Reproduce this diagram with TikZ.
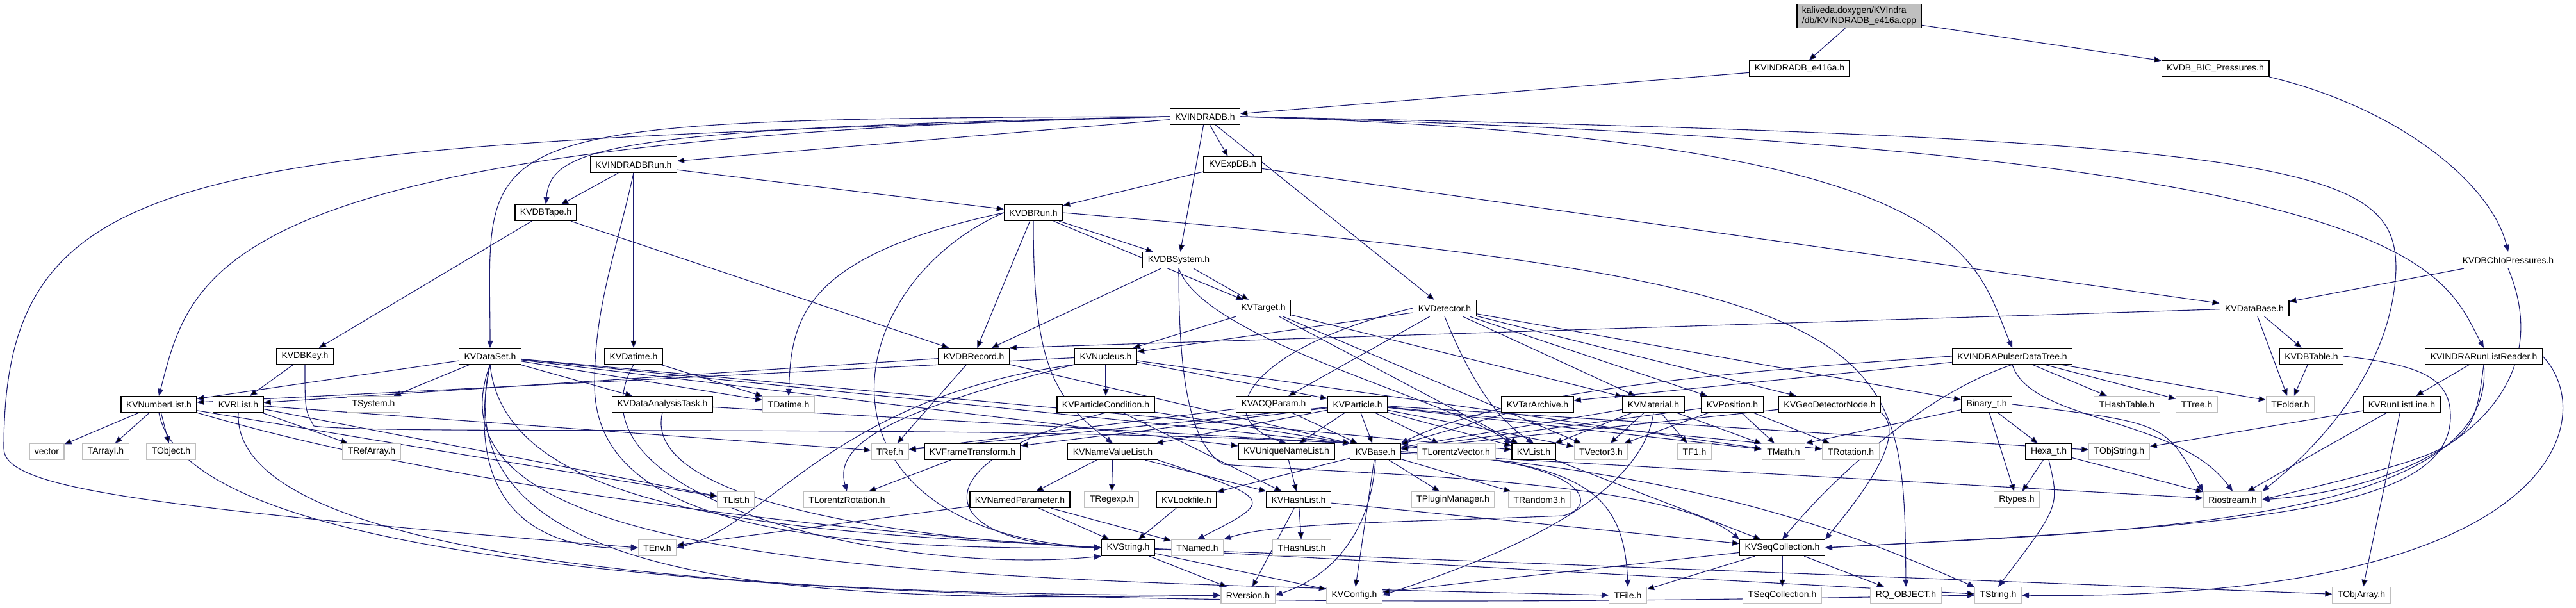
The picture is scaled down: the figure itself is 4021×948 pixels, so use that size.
\documentclass[tikz,border=0pt]{standalone}
\usepackage{fontspec}
\setmainfont{Liberation Sans}
\usetikzlibrary{arrows.meta,backgrounds}

\definecolor{depblue}{HTML}{191970}
\definecolor{sysgray}{HTML}{BFBFBF}

\tikzset{
  hdr/.style={draw=black, fill=white, line width=1.2pt, inner xsep=8pt, inner ysep=2pt,
    minimum height=25pt, font=\fontsize{14}{16}\selectfont},
  syshdr/.style={hdr, draw=sysgray},
  srcfile/.style={hdr, fill=sysgray, align=left, inner ysep=4pt},
  dep/.style={draw=depblue, line width=1.1pt, -{Triangle[length=11pt,width=9pt]}},
}

\begin{document}
\begin{tikzpicture}[x=1pt, y=-1pt]
    \useasboundingbox (0,0) rectangle (4021,948);

    % Source file and direct includes
    \node[srcfile] (root) at (2902,25) {kaliveda.doxygen/KVIndra\\/db/KVINDRADB\_e416a.cpp};
    \node[hdr] (e416a) at (2809,107) {KVINDRADB\_e416a.h};
    \node[hdr] (bic) at (3458,107) {KVDB\_BIC\_Pressures.h};
    \node[hdr] (indradb) at (1881,182) {KVINDRADB.h};

    % Database layer
    \node[hdr] (indradbrun) at (989,257) {KVINDRADBRun.h};
    \node[hdr] (expdb) at (1924,257) {KVExpDB.h};
    \node[hdr] (dbtape) at (852,332) {KVDBTape.h};
    \node[hdr] (dbrun) at (1613,332) {KVDBRun.h};
    \node[hdr] (dbsystem) at (1840,406) {KVDBSystem.h};
    \node[hdr] (chio) at (3915,406) {KVDBChIoPressures.h};
    \node[hdr] (target) at (1972,481) {KVTarget.h};
    \node[hdr] (detector) at (2255,481) {KVDetector.h};
    \node[hdr] (database) at (3519,481) {KVDataBase.h};

    % Row 7
    \node[hdr] (dbkey) at (476,556) {KVDBKey.h};
    \node[hdr] (dataset) at (765,556) {KVDataSet.h};
    \node[hdr] (datime) at (989,556) {KVDatime.h};
    \node[hdr] (dbrecord) at (1520,556) {KVDBRecord.h};
    \node[hdr] (nucleus) at (1726,556) {KVNucleus.h};
    \node[hdr] (pulser) at (3141,556) {KVINDRAPulserDataTree.h};
    \node[hdr] (dbtable) at (3608,556) {KVDBTable.h};
    \node[hdr] (runlistreader) at (3877,556) {KVINDRARunListReader.h};

    % Row 8
    \node[hdr] (numberlist) at (248,631) {KVNumberList.h};
    \node[hdr] (krlist) at (372,631) {KVRList.h};
    \node[syshdr] (tsystem) at (583,631) {TSystem.h};
    \node[hdr] (analysistask) at (1034,631) {KVDataAnalysisTask.h};
    \node[syshdr] (tdatime) at (1231,631) {TDatime.h};
    \node[hdr] (partcond) at (1726,631) {KVParticleCondition.h};
    \node[hdr] (acqparam) at (1988,631) {KVACQParam.h};
    \node[hdr] (particle) at (2119,631) {KVParticle.h};
    \node[hdr] (tararchive) at (2400,631) {KVTarArchive.h};
    \node[hdr] (material) at (2581,631) {KVMaterial.h};
    \node[hdr] (position) at (2704,631) {KVPosition.h};
    \node[hdr] (geodetnode) at (2856,631) {KVGeoDetectorNode.h};
    \node[hdr] (binary) at (3101,631) {Binary\_t.h};
    \node[syshdr] (hashtable) at (3320,631) {THashTable.h};
    \node[syshdr] (ttree) at (3429,631) {TTree.h};
    \node[syshdr] (tfolder) at (3575,631) {TFolder.h};
    \node[hdr] (runlistline) at (3749,631) {KVRunListLine.h};

    % Row 9
    \node[syshdr] (vector) at (73,705) {vector};
    \node[syshdr] (tarrayi) at (165,705) {TArrayI.h};
    \node[syshdr] (tobject) at (267,705) {TObject.h};
    \node[syshdr] (trefarray) at (580,705) {TRefArray.h};
    \node[syshdr] (tref) at (1389,705) {TRef.h};
    \node[hdr] (frametrans) at (1518,705) {KVFrameTransform.h};
    \node[hdr] (namevaluelist) at (1737,705) {KVNameValueList.h};
    \node[hdr] (uniquenamelist) at (2008,705) {KVUniqueNameList.h};
    \node[hdr] (kvbase) at (2147,705) {KVBase.h};
    \node[syshdr] (lorentzvec) at (2273,705) {TLorentzVector.h};
    \node[hdr] (kvlist) at (2394,705) {KVList.h};
    \node[syshdr] (tvector3) at (2499,705) {TVector3.h};
    \node[syshdr] (tf1) at (2645,705) {TF1.h};
    \node[syshdr] (tmath) at (2784,705) {TMath.h};
    \node[syshdr] (trotation) at (2889,705) {TRotation.h};
    \node[hdr] (hexa) at (3198,705) {Hexa\_t.h};
    \node[syshdr] (tobjstring) at (3308,705) {TObjString.h};

    % Row 10
    \node[syshdr] (tlist) at (1149,780) {TList.h};
    \node[syshdr] (lorentzrot) at (1322,780) {TLorentzRotation.h};
    \node[hdr] (namedpar) at (1592,780) {KVNamedParameter.h};
    \node[syshdr] (tregexp) at (1735,780) {TRegexp.h};
    \node[hdr] (lockfile) at (1852,780) {KVLockfile.h};
    \node[hdr] (hashlist) at (2027,780) {KVHashList.h};
    \node[syshdr] (tpluginmgr) at (2268,780) {TPluginManager.h};
    \node[syshdr] (trandom3) at (2403,780) {TRandom3.h};
    \node[syshdr] (rtypes) at (3148,780) {Rtypes.h};
    \node[syshdr] (riostream) at (3485,780) {Riostream.h};

    % Row 11
    \node[syshdr] (tenv) at (1026,855) {TEnv.h};
    \node[hdr] (kvstring) at (1761,855) {KVString.h};
    \node[syshdr] (tnamed) at (1869,855) {TNamed.h};
    \node[syshdr] (thashlist) at (2032,855) {THashList.h};
    \node[hdr] (seqcoll) at (2782,855) {KVSeqCollection.h};

    % Row 12
    \node[syshdr] (rversion) at (1948,929) {RVersion.h};
    \node[syshdr] (kvconfig) at (2114,929) {KVConfig.h};
    \node[syshdr] (tfile) at (2541,929) {TFile.h};
    \node[syshdr] (tseqcoll) at (2782,929) {TSeqCollection.h};
    \node[syshdr] (rqobject) at (2975,929) {RQ\_OBJECT.h};
    \node[syshdr] (tstring) at (3119,929) {TString.h};
    \node[syshdr] (tobjarray) at (3686,929) {TObjArray.h};

    \begin{scope}[on background layer]
    \fill[white] (0,0) rectangle (4021,948);

    % Top of the graph
    \draw[dep] (root) edge (e416a) edge (bic);
    \draw[dep] (e416a) edge (indradb);
    \draw[dep] (bic.south east) .. controls (3750,170) and (3890,290) .. (chio.north);
    \draw[dep] (chio) edge (database);
    \draw[dep] (chio.south) .. controls (4000,620) and (3800,760) .. (riostream.east);

    % KVINDRADB.h
    \draw[dep] (indradb) edge (indradbrun) edge (expdb) edge (dbsystem) edge (detector);
    \draw[dep] (indradb.west) .. controls (950,200) and (860,230) .. (dbtape.north);
    \draw[dep] (indradb.west) .. controls (700,185) and (765,200) .. (dataset.north);
    \draw[dep] (indradb.west) .. controls (330,215) and (300,420) .. (numberlist.north);
    \draw[dep] (indradb.west) .. controls (300,230) and (6,240) .. (6,700)
        .. controls (6,760) and (200,790) .. (tenv.west);
    \draw[dep] (indradb.east) .. controls (3080,215) and (3080,400) .. (pulser.north);
    \draw[dep] (indradb.east) .. controls (3790,230) and (3810,420) .. (runlistreader.north);
    \draw[dep] (indradb.east) .. controls (3600,215) and (3740,260) .. (3740,420)
        .. controls (3735,560) and (3640,680) .. (riostream.north east);

    % Runs, tapes, systems
    \draw[dep] (indradbrun) edge (dbtape) edge (dbrun) edge (datime);
    \draw[dep] (indradbrun.south) .. controls (960,400) and (928,480) .. (928,600)
        .. controls (928,800) and (1200,860) .. (kvstring.west);
    \draw[dep] (expdb) edge (dbrun) edge (database);
    \draw[dep] (dbtape) edge (dbkey) edge (dbrecord);
    \draw[dep] (dbrun) edge (dbrecord) edge (dbsystem) edge (target);
    \draw[dep] (dbrun.south) .. controls (1613,560) and (1640,620) .. (namevaluelist.north);
    \draw[dep] (dbrun.west) .. controls (1250,400) and (1235,500) .. (tdatime.north);
    \draw[dep] (dbrun.west) .. controls (1300,450) and (1250,830) .. (kvstring.west);
    \draw[dep] (dbrun.east) .. controls (2970,440) and (2972,520) .. (rqobject.north);
    \draw[dep] (dbsystem) edge (dbrecord) edge (target);
    \draw[dep] (dbsystem.south) .. controls (1880,530) and (2250,620) .. (kvlist.north west);
    \draw[dep] (dbsystem.south) .. controls (1840,560) and (1850,690) .. (1910,725)
        .. controls (2100,740) and (2600,745) .. (seqcoll.north west);

    % Target and detector
    \draw[dep] (target) edge (nucleus) edge (material) edge (kvlist) edge (tvector3);
    \draw[dep] (detector) edge (nucleus) edge (acqparam) edge (material) edge (position)
        edge (geodetnode) edge (binary);
    \draw[dep] (detector.west) .. controls (1960,540) and (1880,650) .. (uniquenamelist.north);
    \draw[dep] (detector.south) .. controls (2290,580) and (2330,650) .. (kvlist.north);

    % Data base tables and run lists
    \draw[dep] (database) edge (dbrecord.north east) edge (dbtable) edge (tfolder);
    \draw[dep] (dbtable) edge (tfolder);
    \draw[dep] (dbtable.east) .. controls (3780,570) and (3825,590) .. (3825,650)
        .. controls (3825,800) and (3500,820) .. (seqcoll.east);
    \draw[dep] (runlistreader) edge (runlistline);
    \draw[dep] (runlistreader.south) .. controls (3860,700) .. (riostream.east);
    \draw[dep] (runlistreader.south) .. controls (3900,820) and (3300,830) .. (seqcoll.east);
    \draw[dep] (runlistreader.east) .. controls (4060,650) and (4000,940) .. (tstring.east);
    \draw[dep] (runlistline) edge (tobjarray) edge (riostream) edge (tobjstring);
    \draw[dep] (pulser) edge (hashtable) edge (ttree) edge (tfolder) edge (tararchive);
    \draw[dep] (pulser.south) .. controls (3170,660) and (3400,650) .. (riostream.north);
    \draw[dep] (pulser.west) .. controls (2700,580) and (2350,610) .. (kvbase.north east);
    \draw[dep] (pulser.south) .. controls (2990,620) and (2850,760) .. (seqcoll.north);

    % Row 7 headers
    \draw[dep] (dbkey) edge (krlist);
    \draw[dep] (dbkey.south) .. controls (476,640) .. (490,665)
        .. controls (600,680) and (1500,660) .. (kvbase.north west);
    \draw[dep] (dataset) edge (numberlist) edge (tsystem) edge (tdatime) edge (analysistask)
        edge (kvbase.north west) edge (kvlist) edge (uniquenamelist);
    \draw[dep] (dataset.south) .. controls (720,800) and (850,860) .. (tenv.west);
    \draw[dep] (dataset.south) .. controls (790,820) and (1300,830) .. (kvstring.west);
    \draw[dep] (dataset.south) .. controls (680,930) and (1300,940) .. (rversion.west);
    \draw[dep] (dataset.south) .. controls (640,900) and (1500,905) .. (tfile.west);
    \draw[dep] (datime) edge (tdatime);
    \draw[dep] (datime.south) .. controls (870,780) and (1400,900) .. (kvstring.south west);
    \draw[dep] (dbrecord) edge (tref) edge (krlist) edge (kvbase.north west);
    \draw[dep] (nucleus) edge (particle) edge (partcond) edge (numberlist) edge (tmath);
    \draw[dep] (nucleus.south west) .. controls (1400,640) and (1300,690) .. (lorentzrot.north);
    \draw[dep] (nucleus.south west) .. controls (1300,620) and (1200,820) .. (tenv.east);

    % Row 8 headers
    \draw[dep] (numberlist) edge (vector) edge (tarrayi) edge (tobject) edge (tlist);
    \draw[dep] (numberlist.south east) .. controls (700,760) and (1300,830) .. (kvstring.west);
    \draw[dep] (numberlist.south) .. controls (300,920) and (1500,960) .. (tstring.west);
    \draw[dep] (krlist) edge (trefarray) edge (tref) edge (tlist);
    \draw[dep] (krlist.south) .. controls (360,880) and (1200,930) .. (rversion.west);
    \draw[dep] (analysistask) edge (kvbase.north west);
    \draw[dep] (analysistask.south) .. controls (1000,780) and (1400,840) .. (kvstring.west);
    \draw[dep] (partcond) edge (hashlist) edge (kvbase.north west);
    \draw[dep] (partcond.south) .. controls (1430,720) and (1450,850) .. (kvstring.west);
    \draw[dep] (acqparam) edge (kvbase) edge (tref);
    \draw[dep] (particle) edge (kvbase) edge (uniquenamelist) edge (lorentzvec) edge (kvlist)
        edge (tvector3) edge (tmath) edge (trotation) edge (namevaluelist) edge (tref)
        edge (frametrans) edge (tobjstring);
    \draw[dep] (tararchive) edge (kvbase);
    \draw[dep] (material) edge (tf1) edge (tvector3) edge (kvlist) edge (kvbase) edge (tmath);
    \draw[dep] (material.south) .. controls (2565,760) and (2400,850) .. (kvconfig.east);
    \draw[dep] (position) edge (tmath) edge (trotation) edge (tvector3) edge (kvbase);
    \draw[dep] (geodetnode) edge (kvbase);
    \draw[dep] (geodetnode.south east) .. controls (2980,680) and (2900,780) .. (seqcoll.north east);
    \draw[dep] (binary) edge (hexa) edge (rtypes) edge (tmath.north east);
    \draw[dep] (binary.east) .. controls (3380,660) .. (riostream.north west);

    % Row 9 headers
    \draw[dep] (hexa) edge (rtypes) edge (riostream);
    \draw[dep] (hexa.south) .. controls (3215,790) .. (tstring.north);
    \draw[dep] (frametrans) edge (lorentzrot);
    \draw[dep] (namevaluelist) edge (namedpar) edge (tregexp) edge (hashlist);
    \draw[dep] (namevaluelist.south east) .. controls (1990,780) .. (tnamed.north);
    \draw[dep] (uniquenamelist) edge (hashlist);
    \draw[dep] (kvbase) edge (kvconfig) edge (tpluginmgr) edge (trandom3) edge (lockfile)
        edge (riostream);
    \draw[dep] (kvbase.south) .. controls (2140,830) and (2080,900) .. (rversion.east);
    \draw[dep] (kvbase.east) .. controls (2460,720) and (2535,760) .. (tfile.north);
    \draw[dep] (kvbase.east) .. controls (2480,715) and (2500,790) .. (2440,805)
        .. controls (2200,815) and (1990,815) .. (tnamed.north east);
    \draw[dep] (kvbase.east) .. controls (2700,740) and (2950,860) .. (tstring.north west);
    \draw[dep] (kvlist) edge (seqcoll);

    % Lower rows
    \draw[dep] (namedpar) edge (tnamed) edge (tenv) edge (kvstring);
    \draw[dep] (lockfile) edge (kvstring);
    \draw[dep] (hashlist) edge (thashlist) edge (seqcoll) edge (rversion);
    \draw[dep] (kvstring) edge (rversion) edge (kvconfig) edge (tstring) edge (tobjarray);
    \draw[dep] (seqcoll) edge (tseqcoll) edge (rqobject) edge (tfile) edge (kvconfig);
    \end{scope}
\end{tikzpicture}
\end{document}
